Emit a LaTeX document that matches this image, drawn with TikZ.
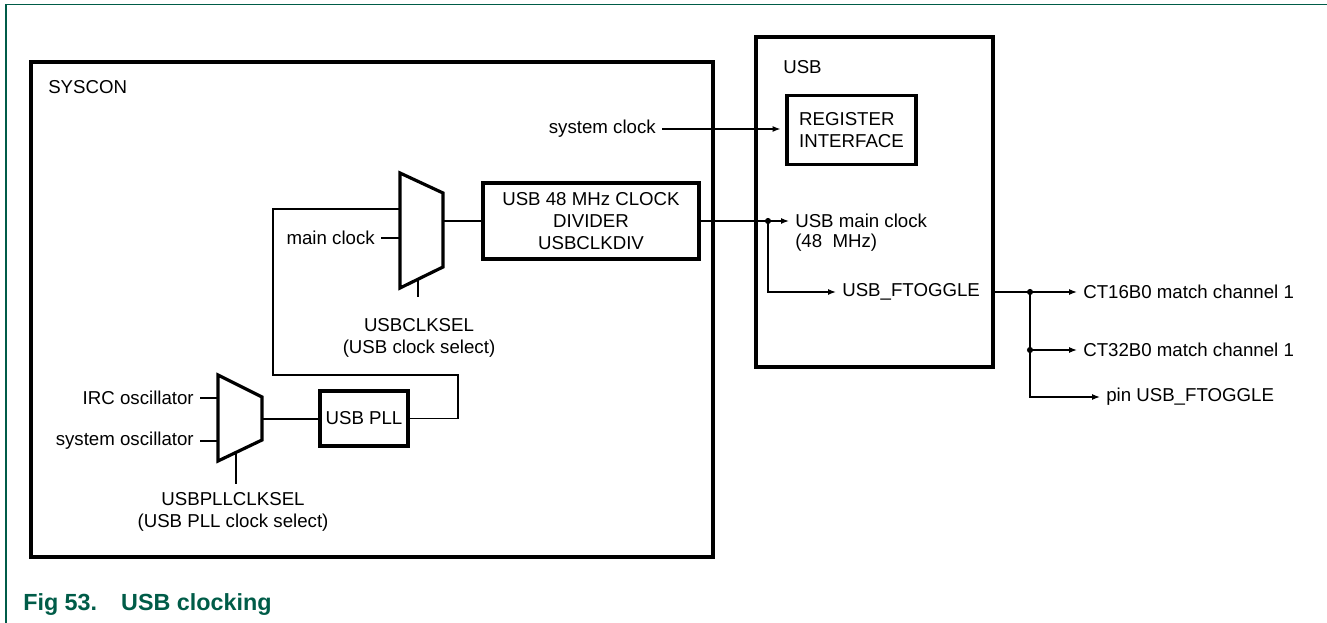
\documentclass[tikz,border=0pt]{standalone}
\usepackage{fontspec}
\setmainfont{Liberation Sans}
\usetikzlibrary{arrows.meta}
\definecolor{nxpgreen}{RGB}{0,92,72}

\begin{document}
\begin{tikzpicture}[x=0.75pt, y=-0.75pt,
  every node/.style={font=\fontsize{14pt}{16.5pt}\selectfont},
  blk/.style={draw, line width=2.6pt, inner sep=0pt},
  wire/.style={line width=1pt},
  sig/.style={wire, -{Latex[length=6pt,width=4.5pt]}},
  mux/.style={line width=2.4pt, line join=miter},
  lbl/.style={inner xsep=4.5pt, inner ysep=0pt},
  jn/.style={circle, fill, inner sep=0pt, minimum size=4.6pt}]
  \useasboundingbox (0,0) rectangle (1327,623);
  \draw[nxpgreen, line width=1pt] (6,623) -- (6,4.5) -- (1327,4.5);
  \node[anchor=west, inner sep=0pt, text=nxpgreen, font=\fontsize{17.5pt}{20pt}\selectfont\bfseries] (cap) at (23,605) {Fig 53.\hspace{18pt}USB clocking};

  \node[blk, minimum width=511.5pt, minimum height=371.25pt] (sys) at (372,309.5) {};
  \node[blk, minimum width=177.75pt, minimum height=247.5pt] (usb) at (874.5,202) {};
  \node[anchor=west, inner sep=0pt] (syst) at (48,87) {SYSCON};
  \node[anchor=west, inner sep=0pt] (usbt) at (783,67) {USB};
  \node[blk, minimum width=96.75pt, minimum height=51.75pt, align=left] (reg) at (851.5,130) {REGISTER\\INTERFACE};
  \node[blk, minimum width=162pt, minimum height=57pt, align=center] (div) at (591,221) {USB 48 MHz CLOCK\\DIVIDER\\USBCLKDIV};
  \node[blk, minimum width=66pt, minimum height=41.25pt] (pll) at (364,418.5) {USB PLL};

  \draw[mux] (400,173) -- (443,193) -- (443,267) -- (400,288) -- cycle;
  \draw[mux] (218,375) -- (262,397) -- (262,440) -- (218,461) -- cycle;
  \coordinate (m1a) at (400,209);
  \coordinate (m1b) at (400,238);
  \coordinate (m1o) at (443,221);
  \coordinate (m1s) at (418,279);
  \coordinate (s1) at (418,297);
  \coordinate (m2a) at (218,398);
  \coordinate (m2b) at (218,441);
  \coordinate (m2o) at (262,419);
  \coordinate (m2s) at (236,452);
  \coordinate (s2) at (236,484);
  \coordinate (fb1) at (458,375);
  \coordinate (fb2) at (273,209);

  \node[lbl, anchor=east] (mc) at (381,238) {main clock};
  \node[lbl, anchor=east] (irc) at (200,398) {IRC oscillator};
  \node[lbl, anchor=east] (osc) at (200,441) {system oscillator};
  \node[lbl, anchor=east] (sc) at (662,129) {system clock};
  \node[align=center, inner sep=0pt] (sel1) at (419,337.5) {USBCLKSEL\\(USB clock select)};
  \node[align=center, inner sep=0pt] (sel2) at (233,512) {USBPLLCLKSEL\\(USB PLL clock select)};

  \node[jn] (j1) at (768,221) {};
  \node[jn] (j2) at (1030,292) {};
  \node[jn] (j3) at (1030,350) {};
  \node[lbl, anchor=west] (umc) at (789,221) {USB main clock};
  \node[lbl, anchor=west] (mhz) at (789,243) {(48\ \ MHz)};
  \node[lbl, anchor=west] (ft) at (836,292) {USB\_FTOGGLE};
  \node[lbl, anchor=west] (ct16) at (1077,292) {CT16B0 match channel 1};
  \node[lbl, anchor=west] (ct32) at (1077,350) {CT32B0 match channel 1};
  \node[lbl, anchor=west] (pin) at (1100,397) {pin USB\_FTOGGLE};

  \draw[wire] (irc.east) -- (m2a);
  \draw[wire] (osc.east) -- (m2b);
  \draw[wire] (m2s) -- (s2);
  \draw[wire] (m2o) -- (m2o -| pll.west);
  \draw[wire] (pll.east) -| (fb1) -| (fb2) -- (m1a);
  \draw[wire] (mc.east) -- (m1b);
  \draw[wire] (m1s) -- (s1);
  \draw[wire] (m1o) -- (div.west);
  \draw[sig, shorten >=3.5pt] (sc.east) -- (sc.east -| reg.west);
  \draw[wire] (div.east) -- (j1.center);
  \draw[sig] (j1.center) -- (umc.west);
  \draw[sig] (j1.center) |- (ft.west);
  \draw[wire] (usb.east |- ft) -- (j2.center);
  \draw[sig] (j2.center) -- (ct16.west);
  \draw[sig] (j3.center) -- (ct32.west);
  \draw[sig] (j2.center) |- (pin.west);
\end{tikzpicture}
\end{document}
